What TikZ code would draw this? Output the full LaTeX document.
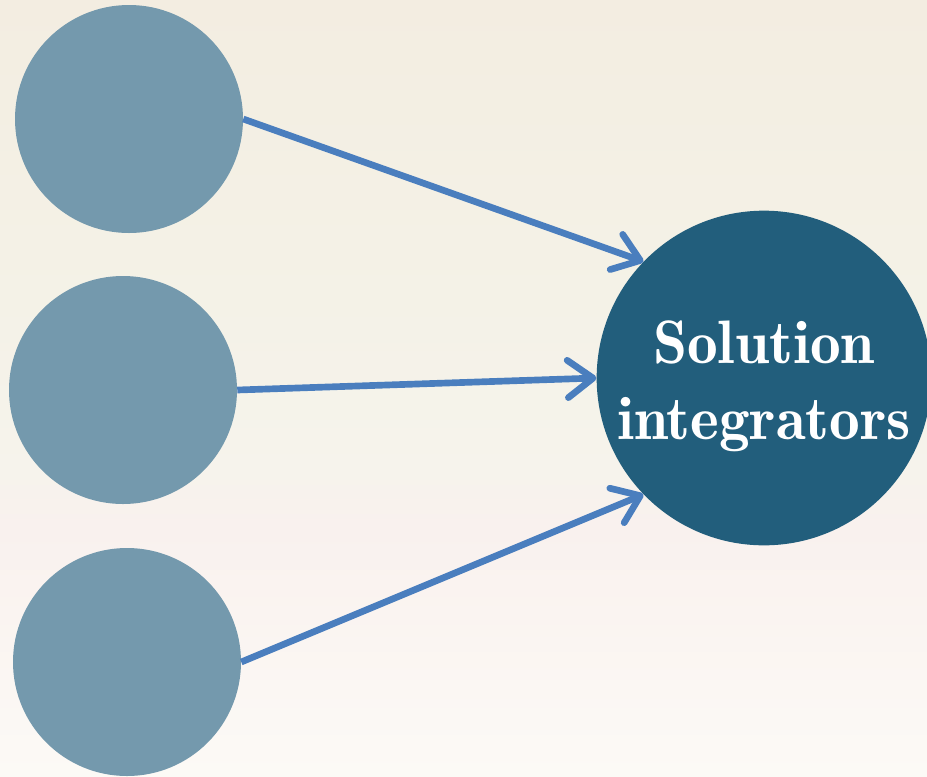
\documentclass[tikz,border=0pt]{standalone}
\usepackage{fontspec}
\newfontfamily\demifont{Latin Modern Roman Demi}
\usetikzlibrary{arrows.meta}

\definecolor{bgtop}{RGB}{243,237,225}
\definecolor{bgupper}{RGB}{244,242,231}
\definecolor{bgmid}{RGB}{246,243,236}
\definecolor{bgpink}{RGB}{249,241,238}
\definecolor{bgbottom}{RGB}{252,250,246}
\definecolor{srcblue}{RGB}{116,153,173}
\definecolor{solblue}{RGB}{34,94,124}
\definecolor{linkblue}{RGB}{74,126,190}

\pgfdeclareverticalshading{paper}{100bp}{color(0bp)=(bgbottom); color(25bp)=(bgbottom);
    color(41bp)=(bgpink); color(44.7bp)=(bgmid); color(55.7bp)=(bgupper);
    color(75bp)=(bgtop); color(100bp)=(bgtop)}

\def\smallsize{171pt}
\def\bigsize{251pt}

\begin{document}
\begin{tikzpicture}[x=0.75pt,y=-0.75pt]
    \tikzstyle{source}=[circle,fill=srcblue,minimum size=\smallsize,inner sep=0pt]
    \tikzstyle{solver}=[circle,fill=solblue,minimum size=\bigsize,inner sep=0pt]
    \tikzstyle{label}=[text=white,align=center,font=\demifont\fontsize{46}{57}\selectfont]
    \tikzstyle{link}=[draw=linkblue,line width=5pt,
        -{Straight Barb[length=19pt,width=28pt,round]}]

    % Background
    \path[use as bounding box] (0,0) rectangle (927,776);
    \clip (0,0) rectangle (927,776);
    \shade[shading=paper] (0,0) rectangle (927,776);

    % Draw the source nodes
    \foreach \name / \x / \y in {1/129/119,2/123/390,3/127/662}
        \node[source] (S-\name) at (\x,\y) {};

    % Draw the solution node
    \node[solver] (Sol) at (764,378) {};
    \node[label] (Sol-text) at (764,386) {Solution\\integrators};

    % Connect every source node with the solution node
    \foreach \source / \angle in {1/136,2/180,3/224}
        \path[link] (S-\source.east) -- (Sol.\angle);

\end{tikzpicture}
\end{document}
